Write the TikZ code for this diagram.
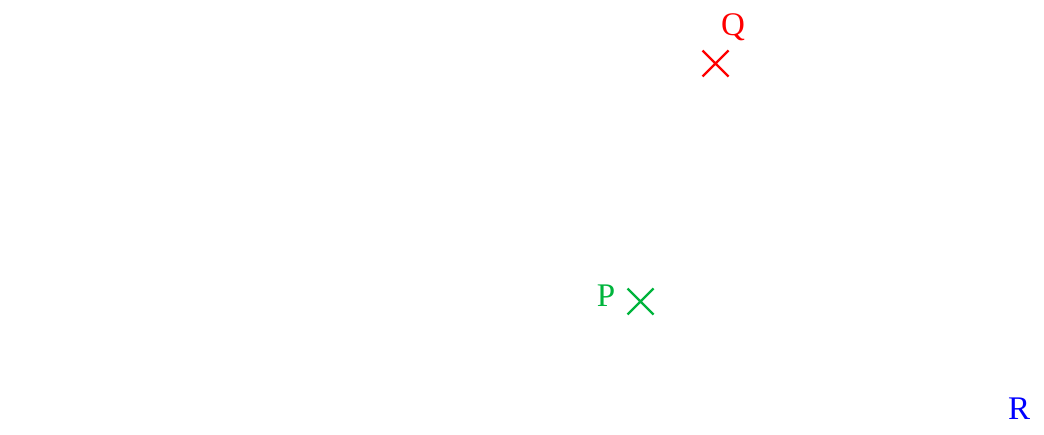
\documentclass[tikz,border=0pt]{standalone}
\usepackage{fontspec}
\setmainfont{Liberation Serif}
\usetikzlibrary{shapes.misc}
\definecolor{ptgreen}{RGB}{0,180,60}
\begin{document}
\begin{tikzpicture}[x=1pt,y=-1pt,
  crossmark/.style={cross out,draw,line width=2.4pt,minimum size=26pt,inner sep=0pt,outer sep=0pt},
  lbl/.style={font=\fontsize{33}{36}\selectfont,inner sep=0pt}]
\useasboundingbox (0,0) rectangle (1044,434);
\node[crossmark,draw=red] (Qx) at (715.5,63.5) {};
\node[lbl,text=red] (Ql) at (733,27) {Q};
\node[crossmark,draw=ptgreen] (Px) at (640.5,301.5) {};
\node[lbl,text=ptgreen] (Pl) at (606,296) {P};
\node[lbl,text=blue] (Rl) at (1019,409) {R};
\end{tikzpicture}
\end{document}
